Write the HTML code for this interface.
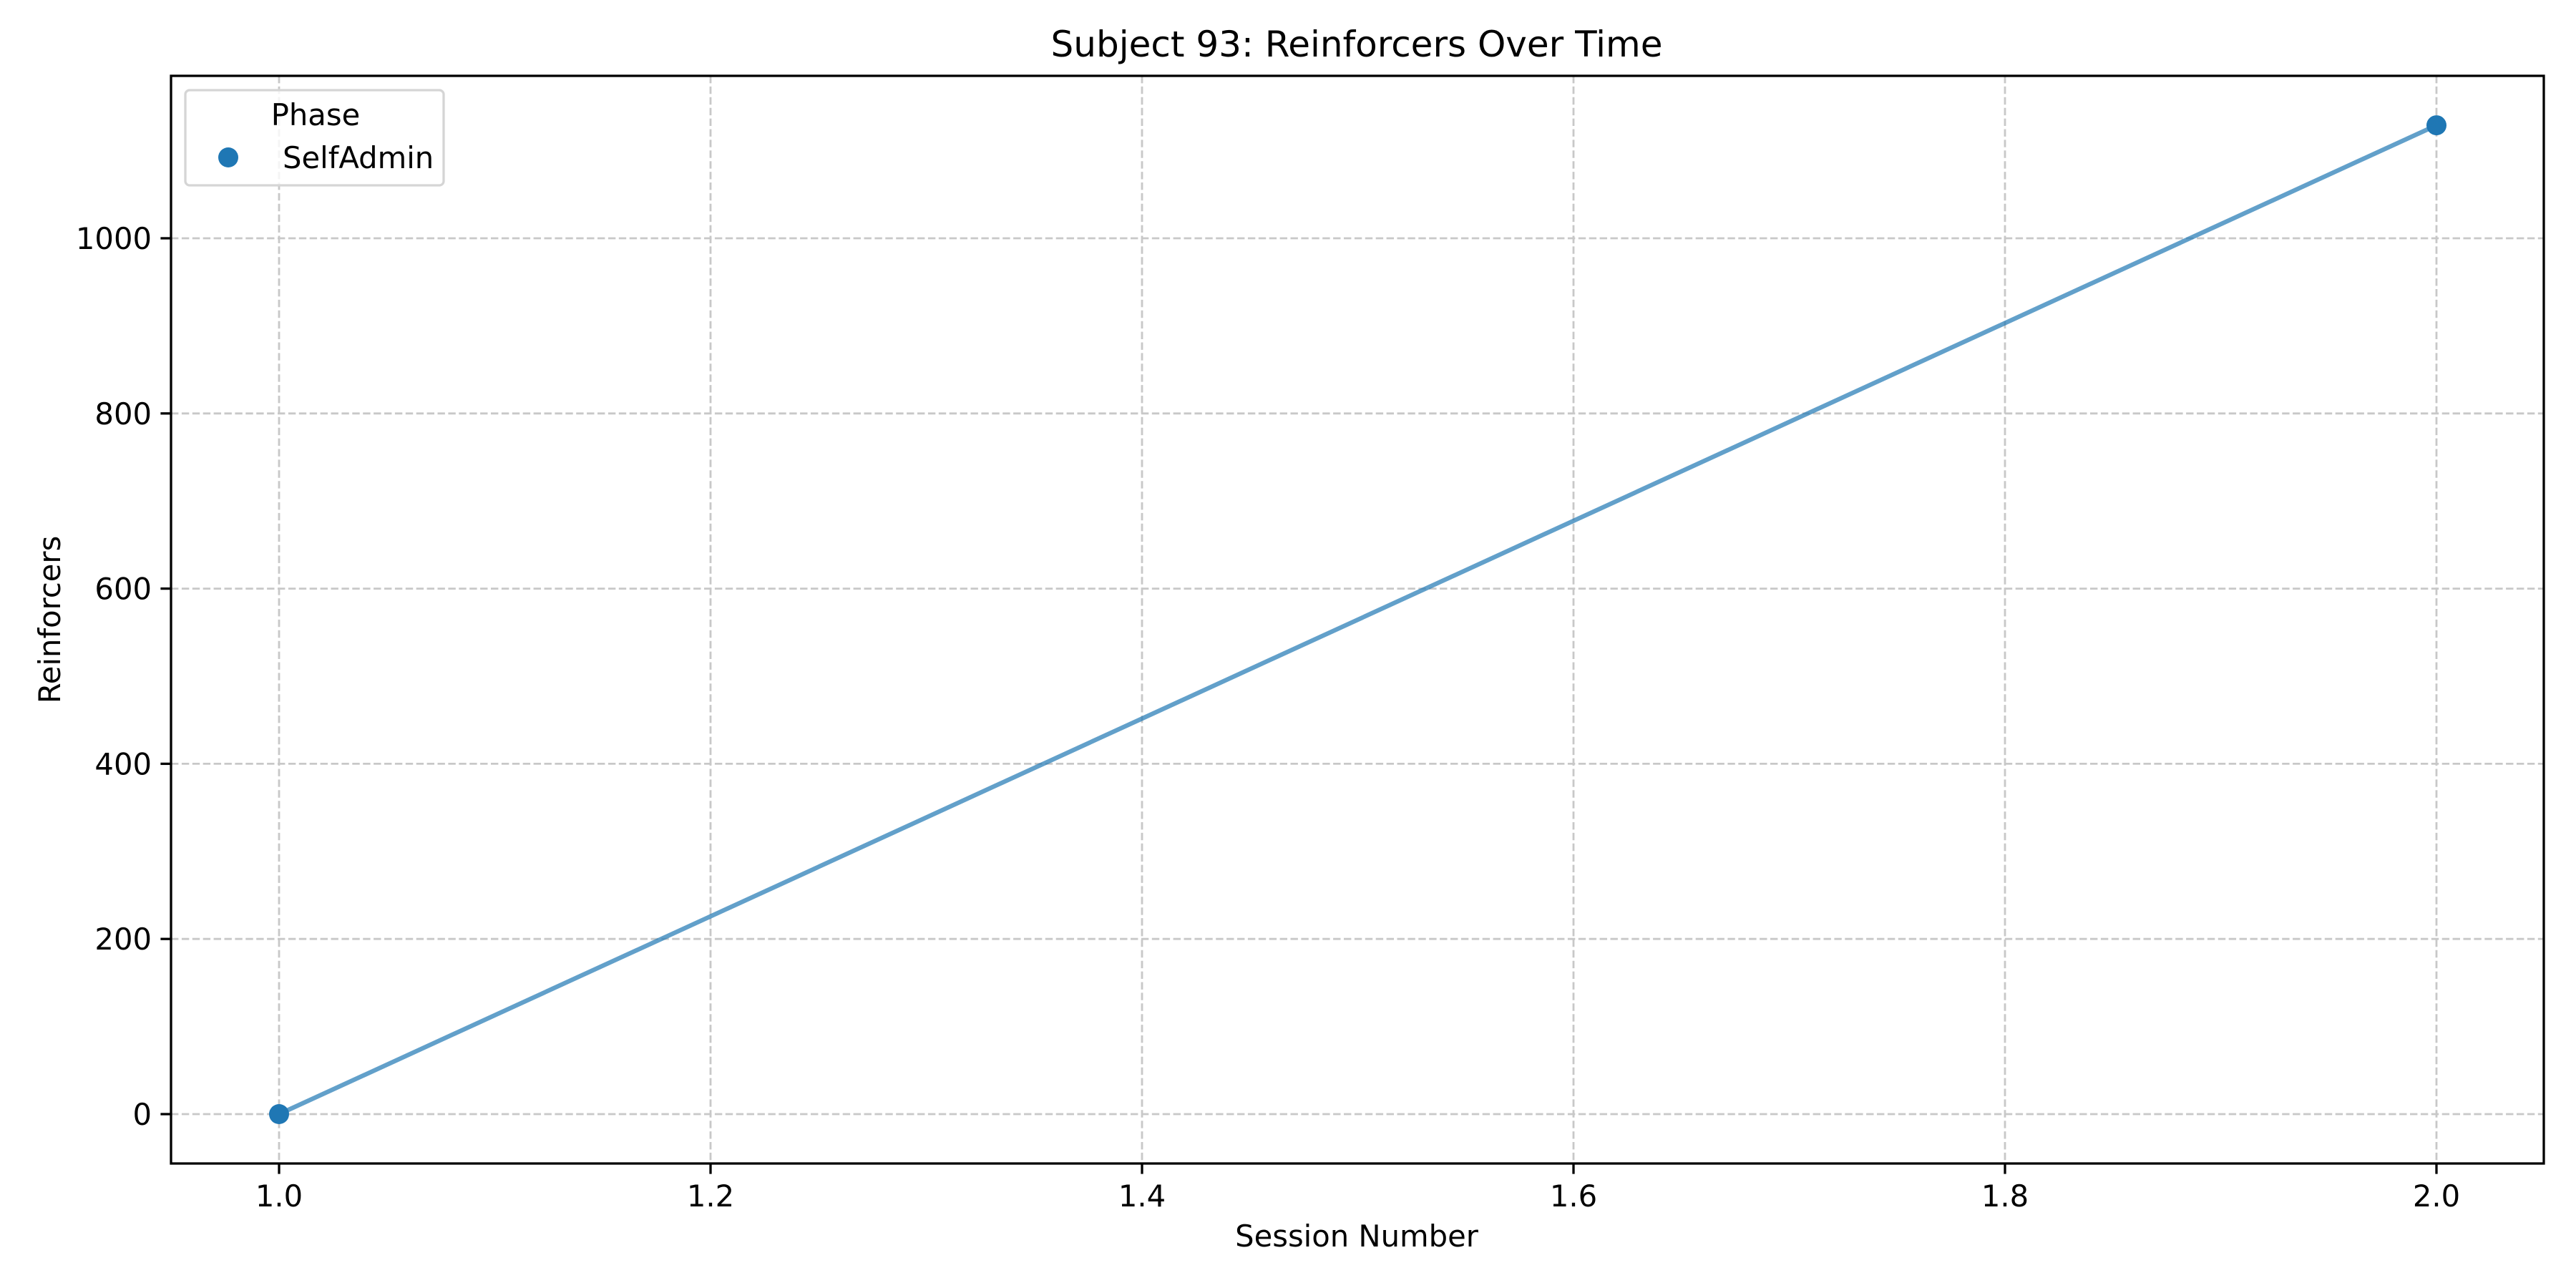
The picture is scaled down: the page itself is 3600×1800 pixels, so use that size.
<!DOCTYPE html>
<html><head><meta charset="utf-8"><style>
html,body{margin:0;padding:0;background:#fff}
svg{display:block;font-family:"DejaVu Sans","Liberation Sans",sans-serif}
</style></head><body>
<svg id="chart" width="3600" height="1800" viewBox="0 0 3600 1800" xmlns="http://www.w3.org/2000/svg">
<rect width="3600" height="1800" fill="#fff"/>
<text x="1896" y="79" font-size="50" text-anchor="middle">Subject 93: Reinforcers Over Time</text>
<g id="grid"></g>
<g id="series"></g>
<rect x="239" y="106" width="3316" height="1520" fill="none" stroke="#000" stroke-width="3.3"/>
<g id="xticks"></g>
<g id="yticks"></g>
<text x="1896" y="1742" font-size="41.7" text-anchor="middle">Session Number</text>
<text x="0" y="0" font-size="41.7" text-anchor="middle" transform="translate(84,866) rotate(-90)">Reinforcers</text>
<g>
<rect x="259" y="126" width="361" height="133" rx="6" fill="#fff" fill-opacity="0.8" stroke="#d5d5d5" stroke-width="3.3"/>
<text x="441" y="175" font-size="41.7" text-anchor="middle">Phase</text>
<circle cx="319" cy="220" r="14" fill="#1f77b4"/>
<text x="395" y="235" font-size="41.7">SelfAdmin</text>
</g>
</svg>
<script>
const sessions = [1.0, 2.0];
const reinforcers = [0, 1129];
const xTickValues = [1.0, 1.2, 1.4, 1.6, 1.8, 2.0];
const xTickLabels = ["1.0", "1.2", "1.4", "1.6", "1.8", "2.0"];
const yTickValues = [0, 200, 400, 600, 800, 1000];
const yTickLabels = ["0", "200", "400", "600", "800", "1000"];

const NS = "http://www.w3.org/2000/svg";
const L = 239, R = 3555, T = 106, B = 1626;
function xs(v){ return 390 + (v - 1.0) * (3405 - 390); }
function ys(v){ return 1557 - v * 1.224; }
function mk(tag, attrs, parent){
  const e = document.createElementNS(NS, tag);
  for (const k in attrs) e.setAttribute(k, attrs[k]);
  parent.appendChild(e);
  return e;
}
const grid = document.getElementById('grid');
const xt = document.getElementById('xticks');
const yt = document.getElementById('yticks');
xTickValues.forEach((v, i) => {
  const x = xs(v);
  const g = mk('line', {x1:x, x2:x, y1:T, y2:B, stroke:'#c8c8c8', 'stroke-width':2.8, 'stroke-dasharray':'10.4,4.5'}, grid);
  
  
  const t = mk('line', {x1:x, x2:x, y1:B, y2:B+14.6, stroke:'#000', 'stroke-width':3.3}, xt);
  
  
  const lb = mk('text', {x:x, y:1686, 'font-size':41.7, 'text-anchor':'middle'}, xt);
  lb.textContent = xTickLabels[i];
  
  
});
yTickValues.forEach((v, i) => {
  const y = ys(v);
  const g = mk('line', {x1:L, x2:R, y1:y, y2:y, stroke:'#c8c8c8', 'stroke-width':2.8, 'stroke-dasharray':'10.4,4.5'}, grid);
  
  
  const t = mk('line', {x1:L-14.6, x2:L, y1:y, y2:y, stroke:'#000', 'stroke-width':3.3}, yt);
  
  
  const lb = mk('text', {x:212, y:y+15, 'font-size':41.7, 'text-anchor':'end'}, yt);
  lb.textContent = yTickLabels[i];
  
  
});
const s = document.getElementById('series');
const pts = sessions.map((v, i) => xs(v) + ',' + ys(reinforcers[i])).join(' ');
const pl = mk('polyline', {points:pts, fill:'none', stroke:'#1f77b4', 'stroke-opacity':0.7, 'stroke-width':6.25}, s);


sessions.forEach((v, i) => {
  const c = mk('circle', {cx:xs(v), cy:ys(reinforcers[i]), r:14, fill:'#1f77b4'}, s);
  
  
});
</script>
</body></html>
